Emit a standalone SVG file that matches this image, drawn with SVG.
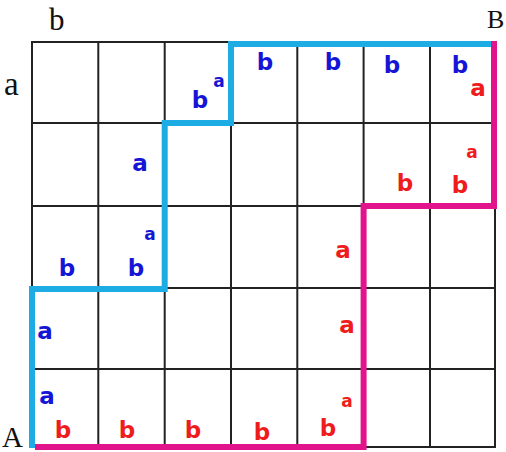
<svg xmlns="http://www.w3.org/2000/svg" width="506" height="452" viewBox="0 0 506 452">
<style>
.grid{stroke:#222;stroke-width:2;fill:none}
.path{fill:none;stroke-width:6;stroke-linejoin:miter;stroke-linecap:butt}
.blue{stroke:#1EACE4}
.pink{stroke:#E2148C}
.lbl{font-family:"Liberation Serif",serif;fill:#111}
.hw{font-family:"DejaVu Sans",sans-serif;font-weight:bold;text-anchor:middle}
.hb{fill:#1515D6}
.hr{fill:#EE1C1C}
.big{font-size:23px}
.sm{font-size:17px}
</style>
<rect width="506" height="452" fill="#fff"/>
<g id="grid" class="grid">
<rect x="32" y="42" width="463" height="405"/>
<line x1="98.3" y1="42" x2="98.3" y2="447"/>
<line x1="164.7" y1="42" x2="164.7" y2="447"/>
<line x1="231" y1="42" x2="231" y2="447"/>
<line x1="297.3" y1="42" x2="297.3" y2="447"/>
<line x1="363.6" y1="42" x2="363.6" y2="447"/>
<line x1="430" y1="42" x2="430" y2="447"/>
<line x1="32" y1="123" x2="495" y2="123"/>
<line x1="32" y1="206" x2="495" y2="206"/>
<line x1="32" y1="288" x2="495" y2="288"/>
<line x1="32" y1="369" x2="495" y2="369"/>
</g>
<g id="connectors">
<path id="bluePath" class="path blue" d="M32,448 V289 H164.7 V123 H231 V44 H492"/>
<path id="pinkPath" class="path pink" d="M35,447 H363.6 V206 H494 V41"/>
</g>
<g id="labels">
<text class="lbl" x="49" y="30" font-size="31">b</text>
<text class="lbl" x="4" y="95" font-size="33">a</text>
<text class="lbl" x="487" y="28" font-size="26">B</text>
<text class="lbl" x="2" y="447" font-size="29">A</text>
</g>
<g id="blueMarks" class="hw hb">
<text class="big" x="200" y="108">b</text>
<text class="sm" x="219" y="87">a</text>
<text class="big" x="265" y="70">b</text>
<text class="big" x="333" y="70">b</text>
<text class="big" x="392" y="73">b</text>
<text class="big" x="460" y="73">b</text>
<text class="big" x="140" y="171">a</text>
<text class="sm" x="150" y="240">a</text>
<text class="big" x="67" y="276">b</text>
<text class="big" x="136" y="276">b</text>
<text class="big" x="45" y="339">a</text>
<text class="big" x="47" y="404">a</text>
</g>
<g id="redMarks" class="hw hr">
<text class="big" x="478" y="96">a</text>
<text class="sm" x="472" y="158">a</text>
<text class="big" x="460" y="193">b</text>
<text class="big" x="405" y="191">b</text>
<text class="big" x="343" y="258">a</text>
<text class="big" x="347" y="333">a</text>
<text class="sm" x="347" y="407">a</text>
<text class="big" x="328" y="436">b</text>
<text class="big" x="63" y="438">b</text>
<text class="big" x="127" y="438">b</text>
<text class="big" x="193" y="438">b</text>
<text class="big" x="262" y="440">b</text>
</g>
</svg>
